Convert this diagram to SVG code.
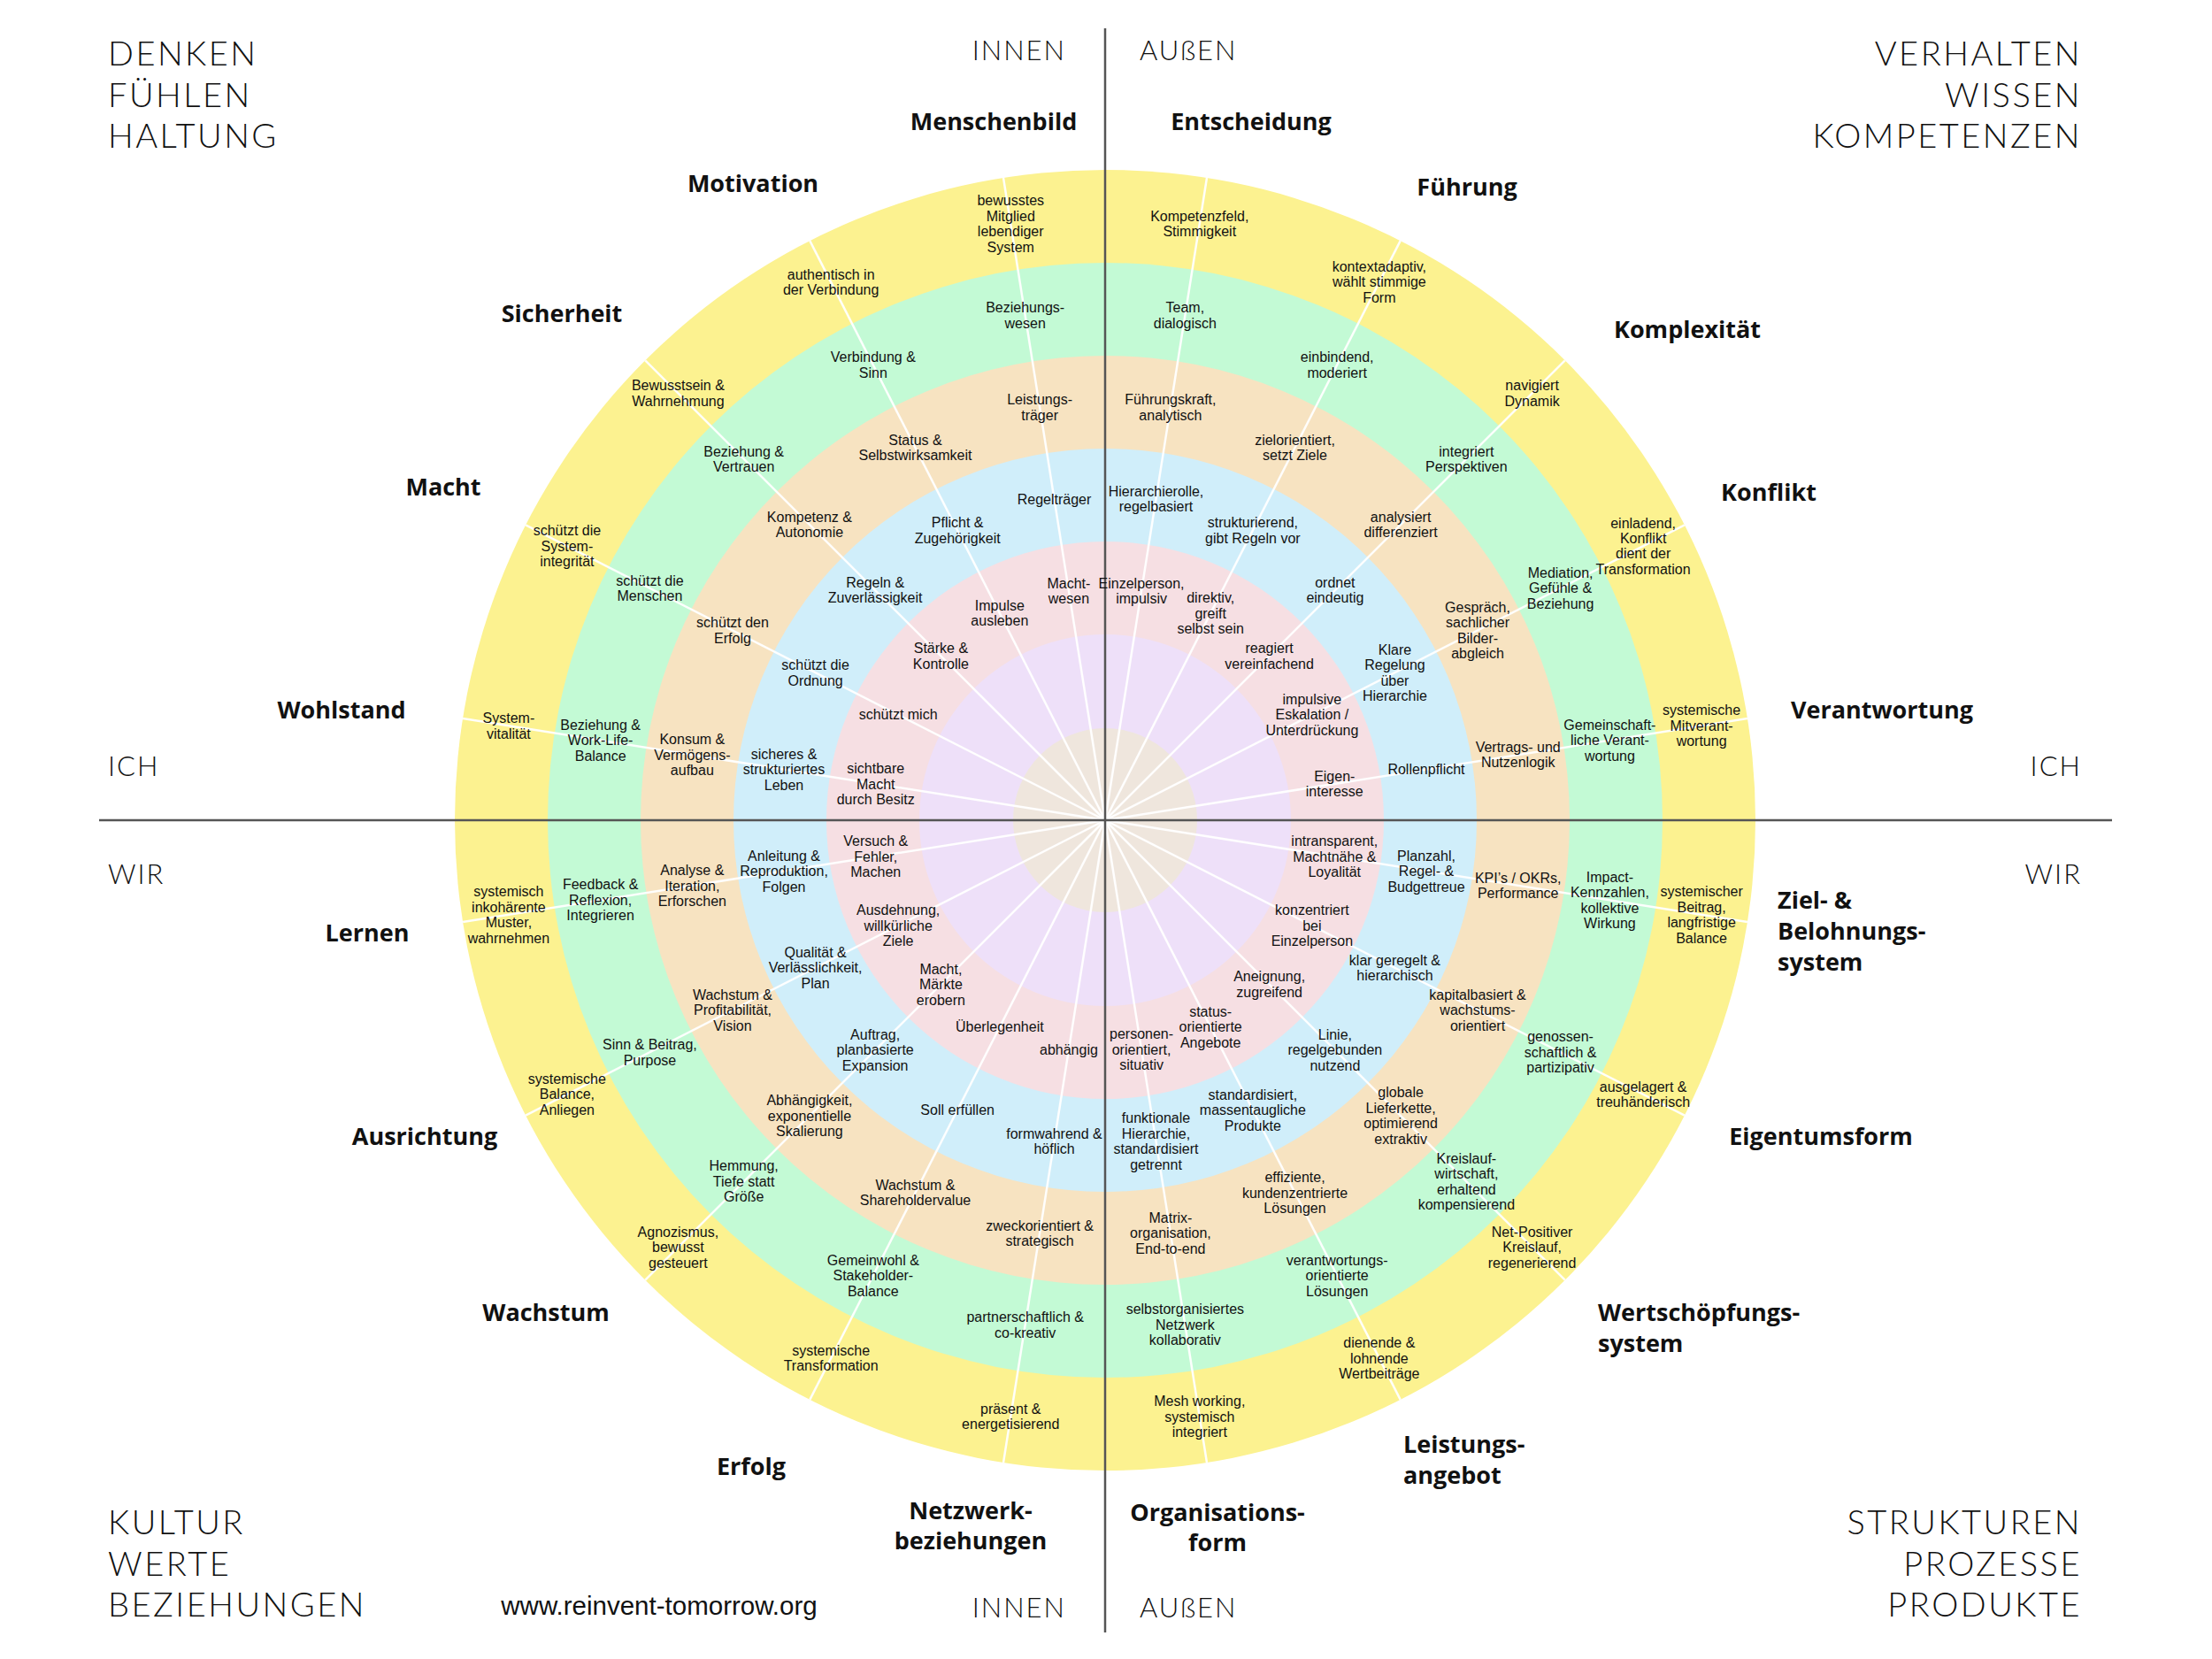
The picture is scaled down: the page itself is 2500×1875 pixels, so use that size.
<svg xmlns="http://www.w3.org/2000/svg" width="2500" height="1875" viewBox="0 0 2500 1875">
<style>
.t{font-family:"Liberation Sans Narrow","Arial Narrow","Liberation Sans",sans-serif;font-size:16px;fill:#111;text-anchor:middle}
.lb{font-family:"Open Sans","Liberation Sans",sans-serif;font-size:27px;font-weight:700;fill:#111;text-anchor:middle}
.lbl{font-family:"Open Sans","Liberation Sans",sans-serif;font-size:27px;font-weight:700;fill:#111;text-anchor:start}
.hd{font-family:Lato,"Liberation Sans",sans-serif;font-size:38px;font-weight:300;fill:#111;letter-spacing:2.5px}
.sm{font-family:Lato,"Liberation Sans",sans-serif;font-size:31px;font-weight:300;fill:#111;letter-spacing:2px}
.url{font-family:"Liberation Sans",Arial,sans-serif;font-size:29.5px;fill:#111;text-anchor:middle}
.sp{stroke:#fff;stroke-width:2.5;stroke-opacity:0.95}
.ax{stroke:#555;stroke-width:2.5;fill:none}
</style>
<rect width="2500" height="1875" fill="#fff"/>
<g id="rings">
<circle cx="1249" cy="927" r="735" fill="#FCF290"/>
<circle cx="1249" cy="927" r="630" fill="#C3FAD5"/>
<circle cx="1249" cy="927" r="525" fill="#F7E3C1"/>
<circle cx="1249" cy="927" r="420" fill="#D0EEFA"/>
<circle cx="1249" cy="927" r="315" fill="#F6DFE3"/>
<circle cx="1249" cy="927" r="210" fill="#EEE0F9"/>
<circle cx="1249" cy="927" r="104" fill="#EFE6DD"/>
</g>
<g id="connectors">
<line class="sp" x1="1249" y1="927" x2="1249" y2="192" transform="rotate(9 1249 927)"/>
<line class="sp" x1="1249" y1="927" x2="1249" y2="192" transform="rotate(27 1249 927)"/>
<line class="sp" x1="1249" y1="927" x2="1249" y2="192" transform="rotate(45 1249 927)"/>
<line class="sp" x1="1249" y1="927" x2="1249" y2="192" transform="rotate(63 1249 927)"/>
<line class="sp" x1="1249" y1="927" x2="1249" y2="192" transform="rotate(81 1249 927)"/>
<line class="sp" x1="1249" y1="927" x2="1249" y2="192" transform="rotate(99 1249 927)"/>
<line class="sp" x1="1249" y1="927" x2="1249" y2="192" transform="rotate(117 1249 927)"/>
<line class="sp" x1="1249" y1="927" x2="1249" y2="192" transform="rotate(135 1249 927)"/>
<line class="sp" x1="1249" y1="927" x2="1249" y2="192" transform="rotate(153 1249 927)"/>
<line class="sp" x1="1249" y1="927" x2="1249" y2="192" transform="rotate(171 1249 927)"/>
<line class="sp" x1="1249" y1="927" x2="1249" y2="192" transform="rotate(189 1249 927)"/>
<line class="sp" x1="1249" y1="927" x2="1249" y2="192" transform="rotate(207 1249 927)"/>
<line class="sp" x1="1249" y1="927" x2="1249" y2="192" transform="rotate(225 1249 927)"/>
<line class="sp" x1="1249" y1="927" x2="1249" y2="192" transform="rotate(243 1249 927)"/>
<line class="sp" x1="1249" y1="927" x2="1249" y2="192" transform="rotate(261 1249 927)"/>
<line class="sp" x1="1249" y1="927" x2="1249" y2="192" transform="rotate(279 1249 927)"/>
<line class="sp" x1="1249" y1="927" x2="1249" y2="192" transform="rotate(297 1249 927)"/>
<line class="sp" x1="1249" y1="927" x2="1249" y2="192" transform="rotate(315 1249 927)"/>
<line class="sp" x1="1249" y1="927" x2="1249" y2="192" transform="rotate(333 1249 927)"/>
<line class="sp" x1="1249" y1="927" x2="1249" y2="192" transform="rotate(351 1249 927)"/>
</g>
<g id="axes">
<line class="ax" x1="1249" y1="32" x2="1249" y2="1845"/>
<line class="ax" x1="112" y1="927" x2="2387" y2="927"/>
</g>

<!-- TOP RIGHT -->
<g id="entscheidung">
<text class="lb" x="1414" y="147">Entscheidung</text>
<text class="t" transform="rotate(9 1249 927) translate(1249 244.5) rotate(-9)"><tspan x="0" dy="-3.15">Kompetenzfeld,</tspan><tspan x="0" dy="17.5">Stimmigkeit</tspan></text>
<text class="t" transform="rotate(9 1249 927) translate(1249 349.5) rotate(-9)"><tspan x="0" dy="-3.15">Team,</tspan><tspan x="0" dy="17.5">dialogisch</tspan></text>
<text class="t" transform="rotate(9 1249 927) translate(1249 454.5) rotate(-9)"><tspan x="0" dy="-3.15">Führungskraft,</tspan><tspan x="0" dy="17.5">analytisch</tspan></text>
<text class="t" transform="rotate(9 1249 927) translate(1249 559.5) rotate(-9)"><tspan x="0" dy="-3.15">Hierarchierolle,</tspan><tspan x="0" dy="17.5">regelbasiert</tspan></text>
<text class="t" transform="rotate(9 1249 927) translate(1249 664.5) rotate(-9)"><tspan x="0" dy="-3.15">Einzelperson,</tspan><tspan x="0" dy="17.5">impulsiv</tspan></text>
</g>
<g id="fuehrung">
<text class="lb" x="1658" y="221">Führung</text>
<text class="t" transform="rotate(27 1249 927) translate(1249 244.5) rotate(-27)"><tspan x="0" dy="-11.9">kontextadaptiv,</tspan><tspan x="0" dy="17.5">wählt stimmige</tspan><tspan x="0" dy="17.5">Form</tspan></text>
<text class="t" transform="rotate(27 1249 927) translate(1249 349.5) rotate(-27)"><tspan x="0" dy="-3.15">einbindend,</tspan><tspan x="0" dy="17.5">moderiert</tspan></text>
<text class="t" transform="rotate(27 1249 927) translate(1249 454.5) rotate(-27)"><tspan x="0" dy="-3.15">zielorientiert,</tspan><tspan x="0" dy="17.5">setzt Ziele</tspan></text>
<text class="t" transform="rotate(27 1249 927) translate(1249 559.5) rotate(-27)"><tspan x="0" dy="-3.15">strukturierend,</tspan><tspan x="0" dy="17.5">gibt Regeln vor</tspan></text>
<text class="t" transform="rotate(27 1249 927) translate(1249 664.5) rotate(-27)"><tspan x="0" dy="-11.9">direktiv,</tspan><tspan x="0" dy="17.5">greift</tspan><tspan x="0" dy="17.5">selbst sein</tspan></text>
</g>
<g id="komplexitaet">
<text class="lb" x="1907" y="382">Komplexität</text>
<text class="t" transform="rotate(45 1249 927) translate(1249 244.5) rotate(-45)"><tspan x="0" dy="-3.15">navigiert</tspan><tspan x="0" dy="17.5">Dynamik</tspan></text>
<text class="t" transform="rotate(45 1249 927) translate(1249 349.5) rotate(-45)"><tspan x="0" dy="-3.15">integriert</tspan><tspan x="0" dy="17.5">Perspektiven</tspan></text>
<text class="t" transform="rotate(45 1249 927) translate(1249 454.5) rotate(-45)"><tspan x="0" dy="-3.15">analysiert</tspan><tspan x="0" dy="17.5">differenziert</tspan></text>
<text class="t" transform="rotate(45 1249 927) translate(1249 559.5) rotate(-45)"><tspan x="0" dy="-3.15">ordnet</tspan><tspan x="0" dy="17.5">eindeutig</tspan></text>
<text class="t" transform="rotate(45 1249 927) translate(1249 664.5) rotate(-45)"><tspan x="0" dy="-3.15">reagiert</tspan><tspan x="0" dy="17.5">vereinfachend</tspan></text>
</g>
<g id="konflikt">
<text class="lb" x="1999" y="566">Konflikt</text>
<text class="t" transform="rotate(63 1249 927) translate(1249 244.5) rotate(-63)"><tspan x="0" dy="-20.65">einladend,</tspan><tspan x="0" dy="17.5">Konflikt</tspan><tspan x="0" dy="17.5">dient der</tspan><tspan x="0" dy="17.5">Transformation</tspan></text>
<text class="t" transform="rotate(63 1249 927) translate(1249 349.5) rotate(-63)"><tspan x="0" dy="-11.9">Mediation,</tspan><tspan x="0" dy="17.5">Gefühle &amp;</tspan><tspan x="0" dy="17.5">Beziehung</tspan></text>
<text class="t" transform="rotate(63 1249 927) translate(1249 454.5) rotate(-63)"><tspan x="0" dy="-20.65">Gespräch,</tspan><tspan x="0" dy="17.5">sachlicher</tspan><tspan x="0" dy="17.5">Bilder-</tspan><tspan x="0" dy="17.5">abgleich</tspan></text>
<text class="t" transform="rotate(63 1249 927) translate(1249 559.5) rotate(-63)"><tspan x="0" dy="-20.65">Klare</tspan><tspan x="0" dy="17.5">Regelung</tspan><tspan x="0" dy="17.5">über</tspan><tspan x="0" dy="17.5">Hierarchie</tspan></text>
<text class="t" transform="rotate(63 1249 927) translate(1249 664.5) rotate(-63)"><tspan x="0" dy="-11.9">impulsive</tspan><tspan x="0" dy="17.5">Eskalation /</tspan><tspan x="0" dy="17.5">Unterdrückung</tspan></text>
</g>
<g id="verantwortung">
<text class="lb" x="2127" y="812">Verantwortung</text>
<text class="t" transform="rotate(81 1249 927) translate(1249 244.5) rotate(-81)"><tspan x="0" dy="-11.9">systemische</tspan><tspan x="0" dy="17.5">Mitverant-</tspan><tspan x="0" dy="17.5">wortung</tspan></text>
<text class="t" transform="rotate(81 1249 927) translate(1249 349.5) rotate(-81)"><tspan x="0" dy="-11.9">Gemeinschaft-</tspan><tspan x="0" dy="17.5">liche Verant-</tspan><tspan x="0" dy="17.5">wortung</tspan></text>
<text class="t" transform="rotate(81 1249 927) translate(1249 454.5) rotate(-81)"><tspan x="0" dy="-3.15">Vertrags- und</tspan><tspan x="0" dy="17.5">Nutzenlogik</tspan></text>
<text class="t" transform="rotate(81 1249 927) translate(1249 559.5) rotate(-81)"><tspan x="0" dy="5.6">Rollenpflicht</tspan></text>
<text class="t" transform="rotate(81 1249 927) translate(1249 664.5) rotate(-81)"><tspan x="0" dy="-3.15">Eigen-</tspan><tspan x="0" dy="17.5">interesse</tspan></text>
</g>

<!-- BOTTOM RIGHT -->
<g id="ziel-belohnungssystem">
<text class="lbl" x="2009" y="1027"><tspan x="2009">Ziel- &amp;</tspan><tspan x="2009" dy="35">Belohnungs-</tspan><tspan x="2009" dy="35">system</tspan></text>
<text class="t" transform="rotate(99 1249 927) translate(1249 244.5) rotate(-99)"><tspan x="0" dy="-20.65">systemischer</tspan><tspan x="0" dy="17.5">Beitrag,</tspan><tspan x="0" dy="17.5">langfristige</tspan><tspan x="0" dy="17.5">Balance</tspan></text>
<text class="t" transform="rotate(99 1249 927) translate(1249 349.5) rotate(-99)"><tspan x="0" dy="-20.65">Impact-</tspan><tspan x="0" dy="17.5">Kennzahlen,</tspan><tspan x="0" dy="17.5">kollektive</tspan><tspan x="0" dy="17.5">Wirkung</tspan></text>
<text class="t" transform="rotate(99 1249 927) translate(1249 454.5) rotate(-99)"><tspan x="0" dy="-3.15">KPI’s / OKRs,</tspan><tspan x="0" dy="17.5">Performance</tspan></text>
<text class="t" transform="rotate(99 1249 927) translate(1249 559.5) rotate(-99)"><tspan x="0" dy="-11.9">Planzahl,</tspan><tspan x="0" dy="17.5">Regel- &amp;</tspan><tspan x="0" dy="17.5">Budgettreue</tspan></text>
<text class="t" transform="rotate(99 1249 927) translate(1249 664.5) rotate(-99)"><tspan x="0" dy="-11.9">intransparent,</tspan><tspan x="0" dy="17.5">Machtnähe &amp;</tspan><tspan x="0" dy="17.5">Loyalität</tspan></text>
</g>
<g id="eigentumsform">
<text class="lb" x="2058" y="1294">Eigentumsform</text>
<text class="t" transform="rotate(117 1249 927) translate(1249 244.5) rotate(-117)"><tspan x="0" dy="-3.15">ausgelagert &amp;</tspan><tspan x="0" dy="17.5">treuhänderisch</tspan></text>
<text class="t" transform="rotate(117 1249 927) translate(1249 349.5) rotate(-117)"><tspan x="0" dy="-11.9">genossen-</tspan><tspan x="0" dy="17.5">schaftlich &amp;</tspan><tspan x="0" dy="17.5">partizipativ</tspan></text>
<text class="t" transform="rotate(117 1249 927) translate(1249 454.5) rotate(-117)"><tspan x="0" dy="-11.9">kapitalbasiert &amp;</tspan><tspan x="0" dy="17.5">wachstums-</tspan><tspan x="0" dy="17.5">orientiert</tspan></text>
<text class="t" transform="rotate(117 1249 927) translate(1249 559.5) rotate(-117)"><tspan x="0" dy="-3.15">klar geregelt &amp;</tspan><tspan x="0" dy="17.5">hierarchisch</tspan></text>
<text class="t" transform="rotate(117 1249 927) translate(1249 664.5) rotate(-117)"><tspan x="0" dy="-11.9">konzentriert</tspan><tspan x="0" dy="17.5">bei</tspan><tspan x="0" dy="17.5">Einzelperson</tspan></text>
</g>
<g id="wertschoepfungssystem">
<text class="lbl" x="1806" y="1493"><tspan x="1806">Wertschöpfungs-</tspan><tspan x="1806" dy="35">system</tspan></text>
<text class="t" transform="rotate(135 1249 927) translate(1249 244.5) rotate(-135)"><tspan x="0" dy="-11.9">Net-Positiver</tspan><tspan x="0" dy="17.5">Kreislauf,</tspan><tspan x="0" dy="17.5">regenerierend</tspan></text>
<text class="t" transform="rotate(135 1249 927) translate(1249 349.5) rotate(-135)"><tspan x="0" dy="-20.65">Kreislauf-</tspan><tspan x="0" dy="17.5">wirtschaft,</tspan><tspan x="0" dy="17.5">erhaltend</tspan><tspan x="0" dy="17.5">kompensierend</tspan></text>
<text class="t" transform="rotate(135 1249 927) translate(1249 454.5) rotate(-135)"><tspan x="0" dy="-20.65">globale</tspan><tspan x="0" dy="17.5">Lieferkette,</tspan><tspan x="0" dy="17.5">optimierend</tspan><tspan x="0" dy="17.5">extraktiv</tspan></text>
<text class="t" transform="rotate(135 1249 927) translate(1249 559.5) rotate(-135)"><tspan x="0" dy="-11.9">Linie,</tspan><tspan x="0" dy="17.5">regelgebunden</tspan><tspan x="0" dy="17.5">nutzend</tspan></text>
<text class="t" transform="rotate(135 1249 927) translate(1249 664.5) rotate(-135)"><tspan x="0" dy="-3.15">Aneignung,</tspan><tspan x="0" dy="17.5">zugreifend</tspan></text>
</g>
<g id="leistungsangebot">
<text class="lbl" x="1586" y="1642"><tspan x="1586">Leistungs-</tspan><tspan x="1586" dy="35">angebot</tspan></text>
<text class="t" transform="rotate(153 1249 927) translate(1249 244.5) rotate(-153)"><tspan x="0" dy="-11.9">dienende &amp;</tspan><tspan x="0" dy="17.5">lohnende</tspan><tspan x="0" dy="17.5">Wertbeiträge</tspan></text>
<text class="t" transform="rotate(153 1249 927) translate(1249 349.5) rotate(-153)"><tspan x="0" dy="-11.9">verantwortungs-</tspan><tspan x="0" dy="17.5">orientierte</tspan><tspan x="0" dy="17.5">Lösungen</tspan></text>
<text class="t" transform="rotate(153 1249 927) translate(1249 454.5) rotate(-153)"><tspan x="0" dy="-11.9">effiziente,</tspan><tspan x="0" dy="17.5">kundenzentrierte</tspan><tspan x="0" dy="17.5">Lösungen</tspan></text>
<text class="t" transform="rotate(153 1249 927) translate(1249 559.5) rotate(-153)"><tspan x="0" dy="-11.9">standardisiert,</tspan><tspan x="0" dy="17.5">massentaugliche</tspan><tspan x="0" dy="17.5">Produkte</tspan></text>
<text class="t" transform="rotate(153 1249 927) translate(1249 664.5) rotate(-153)"><tspan x="0" dy="-11.9">status-</tspan><tspan x="0" dy="17.5">orientierte</tspan><tspan x="0" dy="17.5">Angebote</tspan></text>
</g>
<g id="organisationsform">
<text class="lb" x="1376" y="1719"><tspan x="1376">Organisations-</tspan><tspan x="1376" dy="34">form</tspan></text>
<text class="t" transform="rotate(171 1249 927) translate(1249 244.5) rotate(-171)"><tspan x="0" dy="-11.9">Mesh working,</tspan><tspan x="0" dy="17.5">systemisch</tspan><tspan x="0" dy="17.5">integriert</tspan></text>
<text class="t" transform="rotate(171 1249 927) translate(1249 349.5) rotate(-171)"><tspan x="0" dy="-11.9">selbstorganisiertes</tspan><tspan x="0" dy="17.5">Netzwerk</tspan><tspan x="0" dy="17.5">kollaborativ</tspan></text>
<text class="t" transform="rotate(171 1249 927) translate(1249 454.5) rotate(-171)"><tspan x="0" dy="-11.9">Matrix-</tspan><tspan x="0" dy="17.5">organisation,</tspan><tspan x="0" dy="17.5">End-to-end</tspan></text>
<text class="t" transform="rotate(171 1249 927) translate(1249 559.5) rotate(-171)"><tspan x="0" dy="-20.65">funktionale</tspan><tspan x="0" dy="17.5">Hierarchie,</tspan><tspan x="0" dy="17.5">standardisiert</tspan><tspan x="0" dy="17.5">getrennt</tspan></text>
<text class="t" transform="rotate(171 1249 927) translate(1249 664.5) rotate(-171)"><tspan x="0" dy="-11.9">personen-</tspan><tspan x="0" dy="17.5">orientiert,</tspan><tspan x="0" dy="17.5">situativ</tspan></text>
</g>

<!-- BOTTOM LEFT -->
<g id="netzwerkbeziehungen">
<text class="lb" x="1097" y="1717"><tspan x="1097">Netzwerk-</tspan><tspan x="1097" dy="34">beziehungen</tspan></text>
<text class="t" transform="rotate(189 1249 927) translate(1249 244.5) rotate(-189)"><tspan x="0" dy="-3.15">präsent &amp;</tspan><tspan x="0" dy="17.5">energetisierend</tspan></text>
<text class="t" transform="rotate(189 1249 927) translate(1249 349.5) rotate(-189)"><tspan x="0" dy="-3.15">partnerschaftlich &amp;</tspan><tspan x="0" dy="17.5">co-kreativ</tspan></text>
<text class="t" transform="rotate(189 1249 927) translate(1249 454.5) rotate(-189)"><tspan x="0" dy="-3.15">zweckorientiert &amp;</tspan><tspan x="0" dy="17.5">strategisch</tspan></text>
<text class="t" transform="rotate(189 1249 927) translate(1249 559.5) rotate(-189)"><tspan x="0" dy="-3.15">formwahrend &amp;</tspan><tspan x="0" dy="17.5">höflich</tspan></text>
<text class="t" transform="rotate(189 1249 927) translate(1249 664.5) rotate(-189)"><tspan x="0" dy="5.6">abhängig</tspan></text>
</g>
<g id="erfolg">
<text class="lb" x="849" y="1667">Erfolg</text>
<text class="t" transform="rotate(207 1249 927) translate(1249 244.5) rotate(-207)"><tspan x="0" dy="-3.15">systemische</tspan><tspan x="0" dy="17.5">Transformation</tspan></text>
<text class="t" transform="rotate(207 1249 927) translate(1249 349.5) rotate(-207)"><tspan x="0" dy="-11.9">Gemeinwohl &amp;</tspan><tspan x="0" dy="17.5">Stakeholder-</tspan><tspan x="0" dy="17.5">Balance</tspan></text>
<text class="t" transform="rotate(207 1249 927) translate(1249 454.5) rotate(-207)"><tspan x="0" dy="-3.15">Wachstum &amp;</tspan><tspan x="0" dy="17.5">Shareholdervalue</tspan></text>
<text class="t" transform="rotate(207 1249 927) translate(1249 559.5) rotate(-207)"><tspan x="0" dy="5.6">Soll erfüllen</tspan></text>
<text class="t" transform="rotate(207 1249 927) translate(1249 664.5) rotate(-207)"><tspan x="0" dy="5.6">Überlegenheit</tspan></text>
</g>
<g id="wachstum">
<text class="lb" x="617" y="1493">Wachstum</text>
<text class="t" transform="rotate(225 1249 927) translate(1249 244.5) rotate(-225)"><tspan x="0" dy="-11.9">Agnozismus,</tspan><tspan x="0" dy="17.5">bewusst</tspan><tspan x="0" dy="17.5">gesteuert</tspan></text>
<text class="t" transform="rotate(225 1249 927) translate(1249 349.5) rotate(-225)"><tspan x="0" dy="-11.9">Hemmung,</tspan><tspan x="0" dy="17.5">Tiefe statt</tspan><tspan x="0" dy="17.5">Größe</tspan></text>
<text class="t" transform="rotate(225 1249 927) translate(1249 454.5) rotate(-225)"><tspan x="0" dy="-11.9">Abhängigkeit,</tspan><tspan x="0" dy="17.5">exponentielle</tspan><tspan x="0" dy="17.5">Skalierung</tspan></text>
<text class="t" transform="rotate(225 1249 927) translate(1249 559.5) rotate(-225)"><tspan x="0" dy="-11.9">Auftrag,</tspan><tspan x="0" dy="17.5">planbasierte</tspan><tspan x="0" dy="17.5">Expansion</tspan></text>
<text class="t" transform="rotate(225 1249 927) translate(1249 664.5) rotate(-225)"><tspan x="0" dy="-11.9">Macht,</tspan><tspan x="0" dy="17.5">Märkte</tspan><tspan x="0" dy="17.5">erobern</tspan></text>
</g>
<g id="ausrichtung">
<text class="lb" x="480" y="1294">Ausrichtung</text>
<text class="t" transform="rotate(243 1249 927) translate(1249 244.5) rotate(-243)"><tspan x="0" dy="-11.9">systemische</tspan><tspan x="0" dy="17.5">Balance,</tspan><tspan x="0" dy="17.5">Anliegen</tspan></text>
<text class="t" transform="rotate(243 1249 927) translate(1249 349.5) rotate(-243)"><tspan x="0" dy="-3.15">Sinn &amp; Beitrag,</tspan><tspan x="0" dy="17.5">Purpose</tspan></text>
<text class="t" transform="rotate(243 1249 927) translate(1249 454.5) rotate(-243)"><tspan x="0" dy="-11.9">Wachstum &amp;</tspan><tspan x="0" dy="17.5">Profitabilität,</tspan><tspan x="0" dy="17.5">Vision</tspan></text>
<text class="t" transform="rotate(243 1249 927) translate(1249 559.5) rotate(-243)"><tspan x="0" dy="-11.9">Qualität &amp;</tspan><tspan x="0" dy="17.5">Verlässlichkeit,</tspan><tspan x="0" dy="17.5">Plan</tspan></text>
<text class="t" transform="rotate(243 1249 927) translate(1249 664.5) rotate(-243)"><tspan x="0" dy="-11.9">Ausdehnung,</tspan><tspan x="0" dy="17.5">willkürliche</tspan><tspan x="0" dy="17.5">Ziele</tspan></text>
</g>
<g id="lernen">
<text class="lb" x="415" y="1064">Lernen</text>
<text class="t" transform="rotate(261 1249 927) translate(1249 244.5) rotate(-261)"><tspan x="0" dy="-20.65">systemisch</tspan><tspan x="0" dy="17.5">inkohärente</tspan><tspan x="0" dy="17.5">Muster,</tspan><tspan x="0" dy="17.5">wahrnehmen</tspan></text>
<text class="t" transform="rotate(261 1249 927) translate(1249 349.5) rotate(-261)"><tspan x="0" dy="-11.9">Feedback &amp;</tspan><tspan x="0" dy="17.5">Reflexion,</tspan><tspan x="0" dy="17.5">Integrieren</tspan></text>
<text class="t" transform="rotate(261 1249 927) translate(1249 454.5) rotate(-261)"><tspan x="0" dy="-11.9">Analyse &amp;</tspan><tspan x="0" dy="17.5">Iteration,</tspan><tspan x="0" dy="17.5">Erforschen</tspan></text>
<text class="t" transform="rotate(261 1249 927) translate(1249 559.5) rotate(-261)"><tspan x="0" dy="-11.9">Anleitung &amp;</tspan><tspan x="0" dy="17.5">Reproduktion,</tspan><tspan x="0" dy="17.5">Folgen</tspan></text>
<text class="t" transform="rotate(261 1249 927) translate(1249 664.5) rotate(-261)"><tspan x="0" dy="-11.9">Versuch &amp;</tspan><tspan x="0" dy="17.5">Fehler,</tspan><tspan x="0" dy="17.5">Machen</tspan></text>
</g>

<!-- TOP LEFT -->
<g id="wohlstand">
<text class="lb" x="386" y="812">Wohlstand</text>
<text class="t" transform="rotate(279 1249 927) translate(1249 244.5) rotate(-279)"><tspan x="0" dy="-3.15">System-</tspan><tspan x="0" dy="17.5">vitalität</tspan></text>
<text class="t" transform="rotate(279 1249 927) translate(1249 349.5) rotate(-279)"><tspan x="0" dy="-11.9">Beziehung &amp;</tspan><tspan x="0" dy="17.5">Work-Life-</tspan><tspan x="0" dy="17.5">Balance</tspan></text>
<text class="t" transform="rotate(279 1249 927) translate(1249 454.5) rotate(-279)"><tspan x="0" dy="-11.9">Konsum &amp;</tspan><tspan x="0" dy="17.5">Vermögens-</tspan><tspan x="0" dy="17.5">aufbau</tspan></text>
<text class="t" transform="rotate(279 1249 927) translate(1249 559.5) rotate(-279)"><tspan x="0" dy="-11.9">sicheres &amp;</tspan><tspan x="0" dy="17.5">strukturiertes</tspan><tspan x="0" dy="17.5">Leben</tspan></text>
<text class="t" transform="rotate(279 1249 927) translate(1249 664.5) rotate(-279)"><tspan x="0" dy="-11.9">sichtbare</tspan><tspan x="0" dy="17.5">Macht</tspan><tspan x="0" dy="17.5">durch Besitz</tspan></text>
</g>
<g id="macht">
<text class="lb" x="501" y="560">Macht</text>
<text class="t" transform="rotate(297 1249 927) translate(1249 244.5) rotate(-297)"><tspan x="0" dy="-11.9">schützt die</tspan><tspan x="0" dy="17.5">System-</tspan><tspan x="0" dy="17.5">integrität</tspan></text>
<text class="t" transform="rotate(297 1249 927) translate(1249 349.5) rotate(-297)"><tspan x="0" dy="-3.15">schützt die</tspan><tspan x="0" dy="17.5">Menschen</tspan></text>
<text class="t" transform="rotate(297 1249 927) translate(1249 454.5) rotate(-297)"><tspan x="0" dy="-3.15">schützt den</tspan><tspan x="0" dy="17.5">Erfolg</tspan></text>
<text class="t" transform="rotate(297 1249 927) translate(1249 559.5) rotate(-297)"><tspan x="0" dy="-3.15">schützt die</tspan><tspan x="0" dy="17.5">Ordnung</tspan></text>
<text class="t" transform="rotate(297 1249 927) translate(1249 664.5) rotate(-297)"><tspan x="0" dy="5.6">schützt mich</tspan></text>
</g>
<g id="sicherheit">
<text class="lb" x="635" y="364">Sicherheit</text>
<text class="t" transform="rotate(315 1249 927) translate(1249 244.5) rotate(-315)"><tspan x="0" dy="-3.15">Bewusstsein &amp;</tspan><tspan x="0" dy="17.5">Wahrnehmung</tspan></text>
<text class="t" transform="rotate(315 1249 927) translate(1249 349.5) rotate(-315)"><tspan x="0" dy="-3.15">Beziehung &amp;</tspan><tspan x="0" dy="17.5">Vertrauen</tspan></text>
<text class="t" transform="rotate(315 1249 927) translate(1249 454.5) rotate(-315)"><tspan x="0" dy="-3.15">Kompetenz &amp;</tspan><tspan x="0" dy="17.5">Autonomie</tspan></text>
<text class="t" transform="rotate(315 1249 927) translate(1249 559.5) rotate(-315)"><tspan x="0" dy="-3.15">Regeln &amp;</tspan><tspan x="0" dy="17.5">Zuverlässigkeit</tspan></text>
<text class="t" transform="rotate(315 1249 927) translate(1249 664.5) rotate(-315)"><tspan x="0" dy="-3.15">Stärke &amp;</tspan><tspan x="0" dy="17.5">Kontrolle</tspan></text>
</g>
<g id="motivation">
<text class="lb" x="851" y="217">Motivation</text>
<text class="t" transform="rotate(333 1249 927) translate(1249 244.5) rotate(-333)"><tspan x="0" dy="-3.15">authentisch in</tspan><tspan x="0" dy="17.5">der Verbindung</tspan></text>
<text class="t" transform="rotate(333 1249 927) translate(1249 349.5) rotate(-333)"><tspan x="0" dy="-3.15">Verbindung &amp;</tspan><tspan x="0" dy="17.5">Sinn</tspan></text>
<text class="t" transform="rotate(333 1249 927) translate(1249 454.5) rotate(-333)"><tspan x="0" dy="-3.15">Status &amp;</tspan><tspan x="0" dy="17.5">Selbstwirksamkeit</tspan></text>
<text class="t" transform="rotate(333 1249 927) translate(1249 559.5) rotate(-333)"><tspan x="0" dy="-3.15">Pflicht &amp;</tspan><tspan x="0" dy="17.5">Zugehörigkeit</tspan></text>
<text class="t" transform="rotate(333 1249 927) translate(1249 664.5) rotate(-333)"><tspan x="0" dy="-3.15">Impulse</tspan><tspan x="0" dy="17.5">ausleben</tspan></text>
</g>
<g id="menschenbild">
<text class="lb" x="1123" y="147">Menschenbild</text>
<text class="t" transform="rotate(351 1249 927) translate(1249 244.5) rotate(-351)"><tspan x="0" dy="-20.65">bewusstes</tspan><tspan x="0" dy="17.5">Mitglied</tspan><tspan x="0" dy="17.5">lebendiger</tspan><tspan x="0" dy="17.5">System</tspan></text>
<text class="t" transform="rotate(351 1249 927) translate(1249 349.5) rotate(-351)"><tspan x="0" dy="-3.15">Beziehungs-</tspan><tspan x="0" dy="17.5">wesen</tspan></text>
<text class="t" transform="rotate(351 1249 927) translate(1249 454.5) rotate(-351)"><tspan x="0" dy="-3.15">Leistungs-</tspan><tspan x="0" dy="17.5">träger</tspan></text>
<text class="t" transform="rotate(351 1249 927) translate(1249 559.5) rotate(-351)"><tspan x="0" dy="5.6">Regelträger</tspan></text>
<text class="t" transform="rotate(351 1249 927) translate(1249 664.5) rotate(-351)"><tspan x="0" dy="-3.15">Macht-</tspan><tspan x="0" dy="17.5">wesen</tspan></text>
</g>

<g id="headings">
<text class="hd" x="122" y="74"><tspan x="122">DENKEN</tspan><tspan x="122" dy="46.5">FÜHLEN</tspan><tspan x="122" dy="46.5">HALTUNG</tspan></text>
<text class="hd" text-anchor="end" x="2353" y="74"><tspan x="2353">VERHALTEN</tspan><tspan x="2353" dy="46.5">WISSEN</tspan><tspan x="2353" dy="46.5">KOMPETENZEN</tspan></text>
<text class="hd" x="122" y="1734"><tspan x="122">KULTUR</tspan><tspan x="122" dy="46.5">WERTE</tspan><tspan x="122" dy="46.5">BEZIEHUNGEN</tspan></text>
<text class="hd" text-anchor="end" x="2353" y="1734"><tspan x="2353">STRUKTUREN</tspan><tspan x="2353" dy="46.5">PROZESSE</tspan><tspan x="2353" dy="46.5">PRODUKTE</tspan></text>
<text class="sm" text-anchor="end" x="1205" y="68">INNEN</text>
<text class="sm" x="1288" y="68">AUßEN</text>
<text class="sm" text-anchor="end" x="1205" y="1828">INNEN</text>
<text class="sm" x="1288" y="1828">AUßEN</text>
<text class="sm" x="122" y="877">ICH</text>
<text class="sm" text-anchor="end" x="2353" y="877">ICH</text>
<text class="sm" x="122" y="999">WIR</text>
<text class="sm" text-anchor="end" x="2353" y="999">WIR</text>
<text class="url" x="745" y="1825">www.reinvent-tomorrow.org</text>
</g>
</svg>
